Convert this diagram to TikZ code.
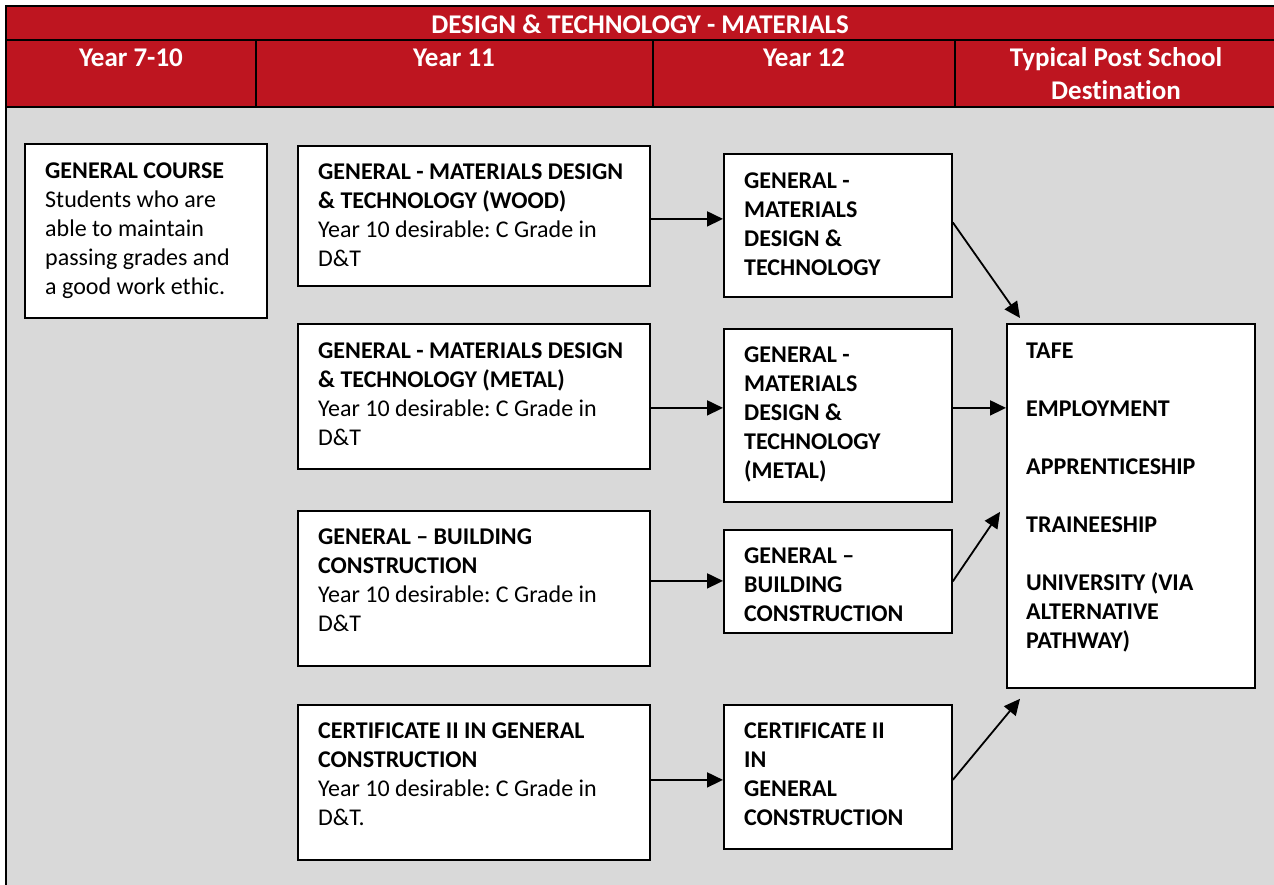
\documentclass[tikz,border=0pt]{standalone}
\usepackage{fontspec}
\setmainfont{Carlito}[Ligatures={NoCommon}]
\usetikzlibrary{arrows.meta}
\definecolor{hdrred}{HTML}{BE1520}
\definecolor{bggrey}{HTML}{D9D9D9}
\frenchspacing
\begin{document}
\begin{tikzpicture}[x=1pt,y=-1pt,
  box/.style={draw=black,line width=1.8pt,fill=white,anchor=north west,inner sep=0pt},
  txt/.style={anchor=base west,inner sep=0pt,font=\fontsize{24}{29}\selectfont},
  btxt/.style={txt,font=\fontsize{24}{29}\selectfont\bfseries},
  hdr/.style={anchor=base,inner sep=0pt,text=white,font=\fontsize{27}{33}\selectfont\bfseries},
  rule/.style={line width=2.2pt,black},
  arr/.style={line width=1.8pt,-{Triangle[length=16pt,width=15pt]}}]
\useasboundingbox (0,0) rectangle (1274,884);
\clip (0,0) rectangle (1274,884);
% background
\fill[bggrey] (6,107) rectangle (1290,900);
\fill[hdrred] (6,6) rectangle (1290,107);
\draw[rule] (6,900) -- (6,6) -- (1290,6);
\draw[rule] (6,40) -- (1290,40);
\draw[rule] (6,107) -- (1290,107);
\draw[rule] (256,40) -- (256,107);
\draw[rule] (653,40) -- (653,107);
\draw[rule] (955,40) -- (955,107);
% headers
\node[hdr] (title) at (640,33) {DESIGN \& TECHNOLOGY - MATERIALS};
\node[hdr] (h1) at (131,66) {Year 7-10};
\node[hdr] (h2) at (454,66) {Year 11};
\node[hdr] (h3) at (804,66) {Year 12};
\node[hdr] (h4) at (1116,66) {\begin{tabular}[t]{@{}c@{}}Typical Post School\\Destination\end{tabular}};
% boxes
\node[box,minimum width=242pt,minimum height=174pt] (gc) at (24,143) {};
\node[box,minimum width=352pt,minimum height=140pt] (ya) at (297,145) {};
\node[box,minimum width=352pt,minimum height=145pt] (yb) at (297,323) {};
\node[box,minimum width=352pt,minimum height=155pt] (yc) at (297,510) {};
\node[box,minimum width=352pt,minimum height=155pt] (yd) at (297,704) {};
\node[box,minimum width=228pt,minimum height=143pt] (za) at (723,153) {};
\node[box,minimum width=228pt,minimum height=173pt] (zb) at (723,328) {};
\node[box,minimum width=228pt,minimum height=103pt] (zc) at (723,529) {};
\node[box,minimum width=228pt,minimum height=144pt] (zd) at (723,704) {};
\node[box,minimum width=248pt,minimum height=364pt] (dest) at (1006,323) {};
% texts
\node[txt] (gct) at (45,178) {\begin{tabular}[t]{@{}l@{}}\textbf{GENERAL COURSE}\\Students who are\\able to maintain\\passing grades and\\a good work ethic.\end{tabular}};
\node[txt] (yat) at (318,179) {\begin{tabular}[t]{@{}l@{}}\textbf{GENERAL - MATERIALS DESIGN}\\\textbf{\& TECHNOLOGY (WOOD)}\\Year 10 desirable: C Grade in\\D\&T\end{tabular}};
\node[txt] (ybt) at (318,358) {\begin{tabular}[t]{@{}l@{}}\textbf{GENERAL - MATERIALS DESIGN}\\\textbf{\& TECHNOLOGY (METAL)}\\Year 10 desirable: C Grade in\\D\&T\end{tabular}};
\node[txt] (yct) at (318,544) {\begin{tabular}[t]{@{}l@{}}\textbf{GENERAL – BUILDING}\\\textbf{CONSTRUCTION}\\Year 10 desirable: C Grade in\\D\&T\end{tabular}};
\node[txt] (ydt) at (318,738) {\begin{tabular}[t]{@{}l@{}}\textbf{CERTIFICATE II IN GENERAL}\\\textbf{CONSTRUCTION}\\Year 10 desirable: C Grade in\\D\&T.\end{tabular}};
\node[btxt] (zat) at (744,188) {\begin{tabular}[t]{@{}l@{}}GENERAL -\\MATERIALS\\DESIGN \&\\TECHNOLOGY\end{tabular}};
\node[btxt] (zbt) at (744,362) {\begin{tabular}[t]{@{}l@{}}GENERAL -\\MATERIALS\\DESIGN \&\\TECHNOLOGY\\(METAL)\end{tabular}};
\node[btxt] (zct) at (744,563) {\begin{tabular}[t]{@{}l@{}}GENERAL –\\BUILDING\\CONSTRUCTION\end{tabular}};
\node[btxt] (zdt) at (744,738) {\begin{tabular}[t]{@{}l@{}}CERTIFICATE II\\IN\\GENERAL\\CONSTRUCTION\end{tabular}};
\node[btxt] (destt) at (1026,358) {\begin{tabular}[t]{@{}l@{}}TAFE\\ \\EMPLOYMENT\\ \\APPRENTICESHIP\\ \\TRAINEESHIP\\ \\UNIVERSITY (VIA\\ALTERNATIVE\\PATHWAY)\end{tabular}};
% arrows year 11 -> year 12
\coordinate (a1) at ([yshift=-3pt]ya.east);
\draw[arr] (a1) -- (a1 -| za.west);
\coordinate (a2) at ([yshift=-11.5pt]yb.east);
\draw[arr] (a2) -- (a2 -| zb.west);
\coordinate (a3) at ([yshift=0.5pt]zc.west);
\draw[arr] (a3 -| yc.east) -- (a3);
\coordinate (a4) at ([yshift=-3pt]zd.west);
\draw[arr] (a4 -| yd.east) -- (a4);
% arrows year 12 -> destination
\draw[arr] ([yshift=3pt]za.east) -- ([xshift=14pt,yshift=5pt]dest.north west);
\coordinate (d2) at ([yshift=7.5pt]zb.east);
\draw[arr] (d2) -- (d2 -| dest.west);
\draw[arr] (zc.east) -- ([xshift=-6pt,yshift=-6pt]dest.west);
\draw[arr] ([yshift=-3pt]zd.east) -- ([xshift=14pt,yshift=-10pt]dest.south west);
\end{tikzpicture}
\end{document}
